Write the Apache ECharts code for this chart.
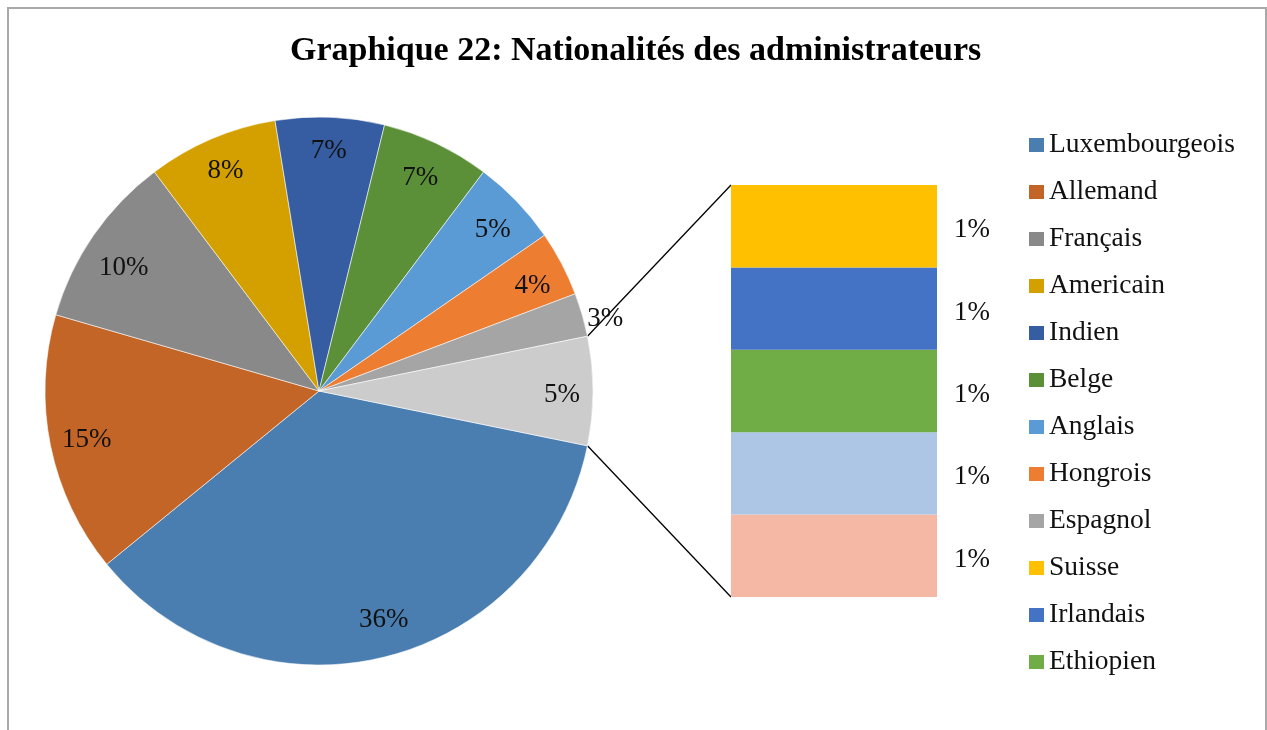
<!DOCTYPE html>
<html>
<head>
<meta charset="utf-8">
<script src="https://cdn.jsdelivr.net/npm/echarts@6/dist/echarts.min.js"></script>
<style>
  html, body { margin: 0; padding: 0; background: #fff; }
  #chart { width: 1267px; height: 730px; }
</style>
</head>
<body>
<div id="chart"></div>
<script>
// pie slices (counts), the last slice is split out in the bar
const pieNames = ['Luxembourgeois', 'Allemand', 'Français', 'Americain', 'Indien', 'Belge', 'Anglais', 'Hongrois', 'Espagnol', 'Autres'];
const pieValues = [28, 12, 8, 6, 5, 5, 4, 3, 2, 5];
const pieLabels = ['36%', '15%', '10%', '8%', '7%', '7%', '5%', '4%', '3%', '5%'];
const pieColors = ['#4A7EB0', '#C46528', '#898989', '#D3A000', '#365DA2', '#5B9039', '#5B9BD5', '#ED7D31', '#A5A5A5', '#CCCCCC'];

// bar of pie, listed top to bottom
const barNames = ['Suisse', 'Irlandais', 'Ethiopien', 'Autre 4', 'Autre 5'];
const barValues = [1, 1, 1, 1, 1];
const barLabels = ['1%', '1%', '1%', '1%', '1%'];
const barColors = ['#FFC000', '#4472C4', '#70AD47', '#ADC6E5', '#F4B8A5'];

// legend shows only these (rest is cut off in the original)
const legendNames = pieNames.slice(0, 9).concat(barNames.slice(0, 3));

const serif = 'Liberation Serif';
const cx = 319, cy = 391, R = 274;
const gridLeft = 731, gridTop = 185, gridW = 206, gridH = 412;
// small nudges so labels sit where excel's "best fit" put them
const labelNudge = [[7, -5], [4, 1], [3, 14], [1, 2], [0, 1], [-2, 5], [0, 6], [0, 7], [-2, 4], [2, 4]];

const total = pieValues.reduce((a, b) => a + b, 0);
const otherHalfAngle = pieValues[pieValues.length - 1] / total * 180;

let myChart = echarts.init(document.getElementById('chart'));

let series = [
  {
    name: 'pie',
    type: 'pie',
    center: [cx, cy],
    radius: [0, R],
    startAngle: -otherHalfAngle,
    clockwise: true,
    label: { show: false },
    labelLine: { show: false },
    itemStyle: { borderColor: 'rgba(255,255,255,0.7)', borderWidth: 0.8 },
    emphasis: { disabled: true },
    data: pieNames.map((n, i) => ({ name: n, value: pieValues[i], itemStyle: { color: pieColors[i] } }))
  },
  {
    // transparent ring only used to place the labels
    name: 'labels',
    type: 'pie',
    center: [cx, cy],
    radius: [202, R],
    startAngle: -otherHalfAngle,
    clockwise: true,
    silent: true,
    avoidLabelOverlap: false,
    legendHoverLink: false,
    itemStyle: { color: 'rgba(0,0,0,0)', borderWidth: 0 },
    emphasis: { disabled: true },
    label: {
      show: true,
      position: 'inside',
      fontFamily: serif,
      fontSize: 27,
      color: '#111',
      formatter: p => pieLabels[p.dataIndex]
    },
    labelLine: { show: false, length: 0, length2: 0 },
    data: pieNames.map((n, i) => {
      let d = { name: n + ' ', value: pieValues[i], label: { offset: labelNudge[i] } };
      if (n === 'Espagnol') {
        d.label.position = 'outside';
        d.label.distanceToLabelLine = 7;
      }
      return d;
    })
  }
];

// stacked bar, bottom segment first
for (let i = barNames.length - 1; i >= 0; i--) {
  series.push({
    name: barNames[i],
    type: 'bar',
    stack: 'autres',
    barWidth: '100%',
    data: [barValues[i]],
    itemStyle: { color: barColors[i] },
    emphasis: { disabled: true },
    label: {
      show: true,
      position: 'right',
      distance: 17,
      offset: [0, 4],
      fontFamily: serif,
      fontSize: 27,
      color: '#111',
      formatter: () => barLabels[i]
    }
  });
}

myChart.setOption({
  animation: false,
  title: {
    text: 'Graphique 22: Nationalités des administrateurs',
    left: 290,
    top: 34,
    padding: 0,
    textStyle: { fontFamily: serif, fontWeight: 'bold', fontSize: 34, color: '#000' }
  },
  legend: {
    orient: 'vertical',
    left: 1029,
    top: 131,
    padding: 0,
    itemWidth: 15,
    itemHeight: 14,
    itemGap: 19,
    icon: 'rect',
    selectedMode: false,
    itemStyle: { borderWidth: 0 },
    data: legendNames,
    textStyle: { fontFamily: serif, fontSize: 27.5, lineHeight: 28, color: '#111' }
  },
  grid: { left: gridLeft, top: gridTop, width: gridW, height: gridH },
  xAxis: { type: 'category', data: ['Autres'], show: false },
  yAxis: { type: 'value', min: 0, max: barValues.reduce((a, b) => a + b, 0), show: false },
  series: series
});

// connector lines from the "other" slice edges to the bar corners
const a = otherHalfAngle * Math.PI / 180;
const px = cx + R * Math.cos(a);
const pyTop = cy - R * Math.sin(a);
const pyBot = cy + R * Math.sin(a);
const barTop = myChart.convertToPixel({ yAxisIndex: 0 }, barValues.reduce((s, v) => s + v, 0));
const barBot = myChart.convertToPixel({ yAxisIndex: 0 }, 0);

myChart.setOption({
  graphic: [
    {
      type: 'rect',
      shape: { x: 8, y: 8, width: 1258, height: 760 },
      style: { fill: 'none', stroke: '#A9A9A9', lineWidth: 2 },
      silent: true
    },
    {
      type: 'line',
      shape: { x1: px, y1: pyTop, x2: gridLeft, y2: barTop },
      style: { stroke: '#000', lineWidth: 1.3 },
      silent: true
    },
    {
      type: 'line',
      shape: { x1: px, y1: pyBot, x2: gridLeft, y2: barBot },
      style: { stroke: '#000', lineWidth: 1.3 },
      silent: true
    }
  ]
});
</script>
</body>
</html>
